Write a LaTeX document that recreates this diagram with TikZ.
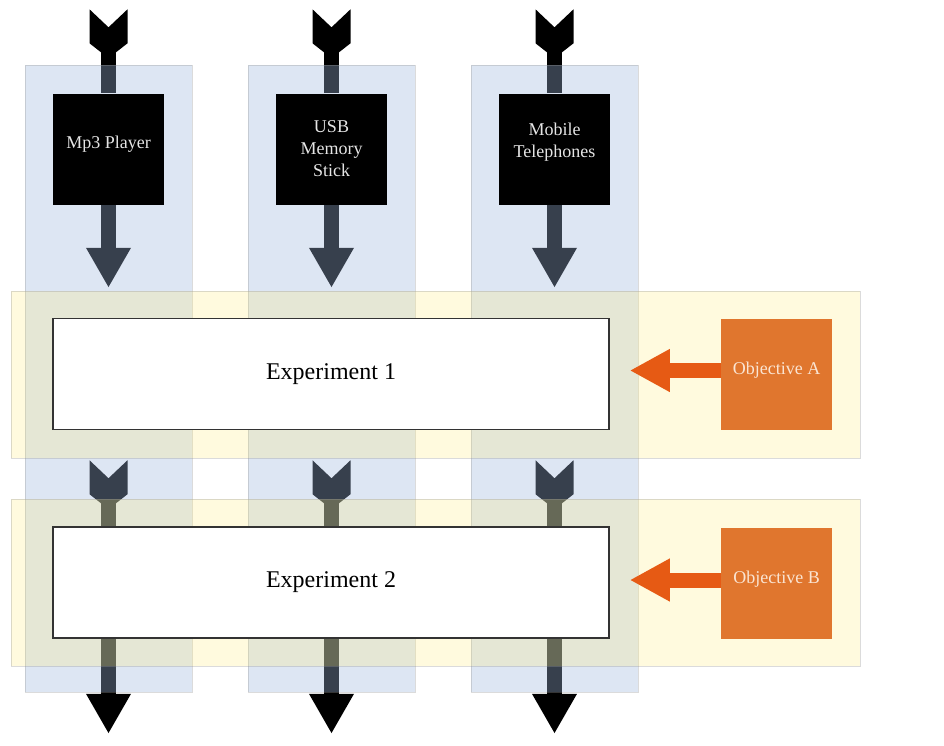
\documentclass[tikz,border=0pt]{standalone}
\usepackage{fontspec}
\setmainfont{Liberation Serif}
\usetikzlibrary{arrows.meta,calc,positioning}
\pgfdeclarelayer{under}
\pgfdeclarelayer{shade}
\pgfsetlayers{under,shade,main}
\definecolor{laneblue}{RGB}{160,185,222}
\definecolor{laneyellow}{RGB}{255,236,120}
\definecolor{objorange}{RGB}{224,118,46}
\definecolor{pointorange}{RGB}{230,90,20}
\definecolor{objtext}{RGB}{250,228,210}
\tikzset{
  device/.style={fill=black, text=white!90!black, minimum width=111pt, minimum height=111pt, align=center, inner sep=0pt, font=\fontsize{18}{22}\selectfont},
  experiment/.style={draw=black!80, line width=1.5pt, fill=white, minimum width=556pt, minimum height=111pt, inner sep=0pt, font=\fontsize{24}{28}\selectfont},
  objective/.style={fill=objorange, text=objtext, minimum width=111pt, minimum height=111pt, inner sep=0pt, font=\fontsize{18}{22}\selectfont},
  lane/.style={draw=black!40, draw opacity=0.35, fill=laneblue, fill opacity=0.35, minimum width=167pt, minimum height=627pt, inner sep=0pt},
  band/.style={draw=black!40, draw opacity=0.35, fill=laneyellow, fill opacity=0.24, minimum width=849pt, minimum height=167pt, inner sep=0pt},
  shaft/.style={line width=15pt, black},
  feed/.style={line width=15pt, black, -{Triangle[length=40pt,width=42pt]}},
  push/.style={line width=15pt, pointorange, -{Triangle[length=40pt,width=40pt]}},
  fletch/.pic={\fill[black] (-19,0) -- (0,18) -- (19,0) -- (19,34) -- (7.5,43) -- (-7.5,43) -- (-19,34) -- cycle;}
}

\begin{document}
\begin{tikzpicture}[x=1pt,y=-1pt]
  \useasboundingbox (0,0) rectangle (944,745);

  \node[device, text depth=14pt] (mp3) at (108.5,149) {Mp3 Player};
  \node[device] (usb) at (331.5,149) {USB\\Memory\\Stick};
  \node[device, text depth=18pt] (mob) at (554.5,149) {Mobile\\Telephones};

  \node[experiment] (exp1) at (331,374) {Experiment 1};
  \node[experiment] (exp2) at (331,582.5) {Experiment 2};

  \node[objective, text depth=12pt] (objA) at (776.5,374) {Objective A};
  \node[objective, text depth=12pt] (objB) at (776.5,583) {Objective B};

  \draw[push, shorten >=20pt] ($(objA.west)+(0,-3.5)$) -- ($(exp1.east |- objA.west)+(0,-3.5)$);
  \draw[push, shorten >=20pt] ($(objB.west)+(0,-3)$) -- ($(exp2.east |- objB.west)+(0,-3)$);

  % see-through lanes and bands
  \begin{pgfonlayer}{shade}
    \foreach \x/\n in {108.5/1,331.5/2,554.5/3} {\node[lane] (lane\n) at (\x,378.5) {};}
    \node[band] (band1) at (435.5,374.5) {};
    \node[band] (band2) at (435.5,582.5) {};
  \end{pgfonlayer}

  \begin{pgfonlayer}{under}
    \fill[white] (0,0) rectangle (944,745);
    \foreach \dev/\n in {mp3/1,usb/2,mob/3} {
      \coordinate (in\n) at ($(\dev.north)+(0,-84)$);
      \pic at (in\n) {fletch};
      \draw[shaft, shorten <=25pt] (in\n) -- (\dev.north);
      \draw[feed, shorten >=30pt] (\dev.south) -- (\dev.south |- exp1.north);
      \coordinate (mid\n) at ($(\dev.south |- exp1.south)+(0,30)$);
      \pic at (mid\n) {fletch};
      \draw[shaft, shorten <=25pt] (mid\n) -- (\dev.south |- exp2.north);
      \coordinate (out\n) at ($(\dev.south |- exp2.south)+(0,95)$);
      \draw[feed] (\dev.south |- exp2.south) -- (out\n);
    }
  \end{pgfonlayer}
\end{tikzpicture}
\end{document}
